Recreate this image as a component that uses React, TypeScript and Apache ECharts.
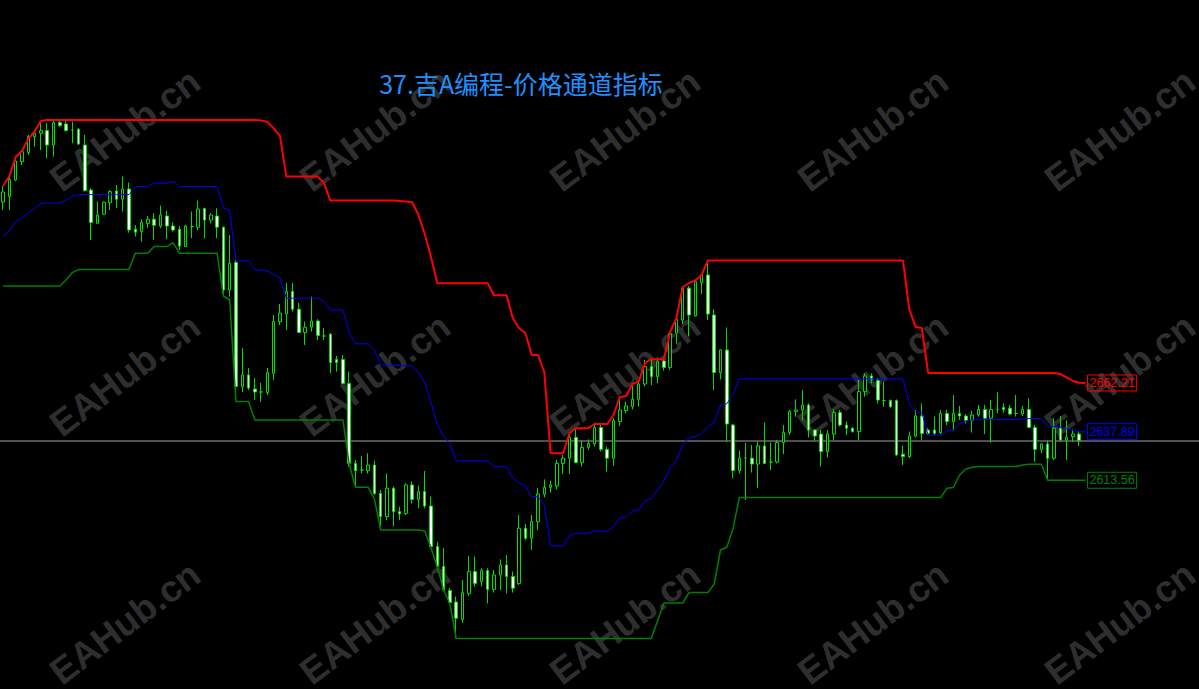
import React, { useEffect, useRef } from "react";
import * as echarts from "echarts";

// [open, close, low, high] per bar
const ohlc: number[][] = [
  [2752.7, 2757.7, 2748.7, 2760.7], [2755.4, 2764.0, 2748.7, 2766.2], [2763.7, 2773.2, 2763.2, 2775.7], [2772.9, 2777.9, 2771.2, 2778.7],
  [2777.4, 2785.4, 2776.2, 2786.2], [2785.4, 2787.1, 2780.4, 2788.7], [2787.1, 2788.4, 2778.7, 2792.9], [2788.4, 2781.2, 2774.6, 2792.1],
  [2781.2, 2792.4, 2775.4, 2793.7], [2792.4, 2790.9, 2790.4, 2793.7], [2791.7, 2788.4, 2787.9, 2793.7], [2788.7, 2788.7, 2782.1, 2792.9],
  [2789.1, 2781.7, 2781.2, 2789.6], [2781.2, 2758.4, 2757.9, 2786.2], [2758.7, 2742.4, 2733.7, 2759.6], [2742.0, 2746.2, 2742.0, 2752.9],
  [2746.6, 2752.6, 2746.2, 2752.9], [2752.4, 2757.9, 2748.7, 2758.7], [2758.2, 2754.1, 2749.6, 2761.2], [2754.1, 2759.2, 2747.9, 2765.4],
  [2759.2, 2738.7, 2737.4, 2762.4], [2739.1, 2737.6, 2735.4, 2741.2], [2737.9, 2742.4, 2732.9, 2744.1], [2742.0, 2744.1, 2739.6, 2745.7],
  [2744.1, 2741.1, 2733.7, 2747.1], [2740.7, 2746.2, 2739.6, 2750.9], [2745.7, 2740.7, 2734.1, 2748.4], [2740.7, 2738.7, 2737.9, 2742.4],
  [2739.1, 2730.7, 2728.7, 2740.7], [2730.4, 2740.7, 2730.1, 2741.2], [2740.4, 2740.4, 2734.6, 2747.9], [2740.1, 2749.2, 2738.7, 2753.4],
  [2749.4, 2743.7, 2734.6, 2749.9], [2743.7, 2746.2, 2742.0, 2747.1], [2745.7, 2740.1, 2734.6, 2749.6], [2740.1, 2708.7, 2705.4, 2740.4],
  [2708.7, 2722.0, 2705.4, 2736.2], [2722.4, 2660.4, 2658.7, 2723.7], [2660.4, 2666.2, 2657.7, 2679.7], [2666.2, 2659.7, 2658.7, 2669.7],
  [2659.2, 2657.7, 2653.7, 2664.7], [2657.7, 2657.7, 2652.7, 2662.2], [2657.4, 2667.4, 2656.2, 2669.7], [2667.0, 2692.9, 2663.7, 2696.2],
  [2692.9, 2697.2, 2691.2, 2701.7], [2696.7, 2707.9, 2688.7, 2712.2], [2707.9, 2699.1, 2697.9, 2712.2], [2699.1, 2687.4, 2687.2, 2702.2],
  [2687.4, 2690.1, 2681.2, 2692.9], [2690.1, 2693.2, 2687.9, 2705.4], [2693.2, 2685.9, 2683.7, 2694.1], [2685.7, 2685.7, 2683.7, 2689.7],
  [2686.6, 2672.4, 2667.0, 2687.2], [2674.0, 2672.4, 2667.9, 2675.7], [2674.0, 2662.0, 2661.7, 2676.2], [2662.0, 2622.0, 2620.4, 2667.9],
  [2622.0, 2618.4, 2610.4, 2623.7], [2618.7, 2618.7, 2617.0, 2625.7], [2618.4, 2621.2, 2617.0, 2627.0], [2621.2, 2607.0, 2606.2, 2623.4],
  [2607.0, 2595.4, 2590.4, 2608.7], [2595.4, 2609.6, 2593.7, 2617.0], [2609.6, 2597.9, 2590.7, 2610.4], [2597.9, 2596.7, 2593.7, 2600.4],
  [2597.0, 2611.2, 2596.2, 2612.0], [2611.2, 2604.0, 2602.0, 2612.9], [2604.0, 2607.9, 2599.6, 2610.9], [2607.9, 2600.7, 2599.6, 2618.2],
  [2600.7, 2580.4, 2579.6, 2605.4], [2580.4, 2570.4, 2570.2, 2582.9], [2570.4, 2558.7, 2557.9, 2579.6], [2558.4, 2552.4, 2552.2, 2559.7],
  [2552.7, 2544.6, 2534.6, 2555.4], [2544.0, 2557.4, 2542.4, 2563.7], [2557.0, 2567.9, 2555.7, 2575.7], [2567.9, 2562.0, 2560.4, 2575.4],
  [2562.9, 2568.4, 2560.4, 2569.6], [2568.4, 2559.0, 2552.0, 2569.6], [2559.0, 2566.2, 2557.4, 2568.7], [2566.2, 2571.2, 2558.7, 2574.0],
  [2571.2, 2565.4, 2557.0, 2576.2], [2565.4, 2559.6, 2557.4, 2567.9], [2562.0, 2589.6, 2561.2, 2596.2], [2589.6, 2584.6, 2583.7, 2591.7],
  [2584.6, 2592.9, 2578.7, 2596.2], [2592.9, 2606.7, 2588.7, 2609.6], [2606.7, 2610.0, 2605.0, 2614.0], [2610.0, 2611.2, 2607.4, 2613.4],
  [2610.7, 2622.0, 2609.0, 2623.7], [2622.0, 2624.6, 2616.7, 2626.2], [2624.6, 2635.0, 2616.7, 2636.2], [2635.0, 2622.4, 2622.0, 2639.0],
  [2622.4, 2630.0, 2620.4, 2633.4], [2630.0, 2632.0, 2628.7, 2634.0], [2631.7, 2640.0, 2630.4, 2641.2], [2640.0, 2629.0, 2627.9, 2641.2],
  [2629.0, 2624.6, 2617.9, 2630.4], [2624.6, 2643.4, 2620.7, 2644.6], [2642.9, 2648.7, 2640.7, 2654.7], [2648.4, 2650.7, 2647.0, 2652.9],
  [2650.4, 2654.0, 2649.0, 2660.7], [2654.0, 2661.7, 2650.4, 2662.9], [2661.7, 2670.4, 2660.4, 2673.7], [2670.4, 2665.4, 2661.2, 2673.7],
  [2665.4, 2673.2, 2662.0, 2675.0], [2673.2, 2670.0, 2668.4, 2674.0], [2670.0, 2687.0, 2668.7, 2687.9], [2687.0, 2694.0, 2682.0, 2695.4],
  [2693.7, 2709.6, 2691.7, 2710.7], [2709.6, 2696.2, 2685.4, 2710.7], [2695.7, 2712.9, 2695.4, 2714.0], [2712.4, 2716.2, 2706.7, 2717.0],
  [2716.2, 2696.7, 2693.7, 2722.9], [2696.2, 2667.4, 2658.7, 2699.0], [2667.4, 2678.7, 2664.0, 2679.0], [2678.7, 2641.7, 2632.9, 2690.0],
  [2641.2, 2618.4, 2614.6, 2641.7], [2618.4, 2624.6, 2617.0, 2628.4], [2624.7, 2624.7, 2603.7, 2632.2], [2624.6, 2621.7, 2617.4, 2631.2],
  [2621.7, 2630.7, 2609.6, 2632.9], [2630.7, 2622.0, 2621.7, 2642.4], [2622.7, 2622.7, 2618.7, 2632.4], [2622.7, 2632.4, 2622.0, 2633.7],
  [2632.4, 2637.4, 2626.7, 2641.2], [2637.4, 2647.9, 2636.2, 2648.7], [2647.9, 2648.7, 2645.4, 2654.0], [2648.7, 2651.2, 2643.4, 2658.7],
  [2651.2, 2638.7, 2635.0, 2652.0], [2638.7, 2635.7, 2633.4, 2639.0], [2636.7, 2627.9, 2620.4, 2638.7], [2627.9, 2636.7, 2625.0, 2638.7],
  [2636.7, 2647.4, 2633.7, 2649.0], [2647.4, 2641.2, 2640.4, 2648.7], [2641.2, 2639.6, 2636.2, 2642.9], [2639.6, 2637.9, 2637.4, 2640.0],
  [2637.9, 2657.9, 2633.7, 2663.7], [2657.9, 2665.7, 2655.4, 2667.0], [2665.7, 2664.0, 2662.0, 2667.0], [2663.4, 2653.7, 2652.0, 2664.6],
  [2653.4, 2653.4, 2650.4, 2662.9], [2653.4, 2650.4, 2649.6, 2654.0], [2653.4, 2626.2, 2625.9, 2654.0], [2626.6, 2625.4, 2621.2, 2630.7],
  [2625.4, 2635.7, 2624.6, 2637.9], [2635.7, 2645.7, 2635.0, 2648.7], [2645.7, 2637.0, 2633.7, 2652.0], [2638.7, 2637.0, 2636.2, 2639.6],
  [2638.7, 2637.0, 2636.2, 2645.4], [2637.4, 2647.0, 2636.7, 2648.7], [2647.0, 2642.9, 2641.2, 2648.7], [2642.9, 2647.0, 2638.7, 2656.2],
  [2647.0, 2645.7, 2643.7, 2650.7], [2645.7, 2643.4, 2642.0, 2646.7], [2643.4, 2646.2, 2637.4, 2648.4], [2646.2, 2649.0, 2645.4, 2651.2],
  [2649.0, 2644.6, 2636.7, 2651.2], [2644.6, 2649.0, 2632.4, 2653.7], [2649.0, 2649.0, 2647.0, 2657.6], [2650.0, 2649.0, 2647.4, 2652.0],
  [2649.6, 2646.7, 2646.2, 2651.2], [2647.0, 2647.0, 2645.4, 2656.2], [2646.7, 2649.0, 2645.7, 2650.7], [2649.0, 2640.0, 2639.6, 2654.6],
  [2640.0, 2629.0, 2622.9, 2641.2], [2629.0, 2631.7, 2627.0, 2632.0], [2631.7, 2624.6, 2613.4, 2633.4], [2624.6, 2639.6, 2623.7, 2644.6],
  [2639.6, 2633.7, 2632.9, 2645.7], [2633.7, 2635.0, 2623.7, 2643.4], [2635.4, 2636.7, 2632.9, 2639.0], [2636.7, 2633.4, 2630.7, 2637.9],
];

// upper channel (highest high), one extra point at the end for the price label
const upper: number[] = [
  2760.7, 2765.7, 2775.2, 2778.2, 2784.2, 2788.0, 2793.2, 2793.7, 2793.7, 2793.7,
  2793.7, 2793.7, 2793.7, 2793.7, 2793.7, 2793.7, 2793.7, 2793.7, 2793.7, 2793.7,
  2793.7, 2793.7, 2793.7, 2793.7, 2793.7, 2793.7, 2793.7, 2793.7, 2793.7, 2793.7,
  2793.7, 2793.7, 2793.7, 2793.7, 2793.7, 2793.7, 2793.7, 2793.7, 2793.7, 2793.7,
  2793.7, 2793.5, 2792.7, 2789.5, 2785.7, 2765.4, 2765.4, 2765.4, 2765.4, 2765.4,
  2765.4, 2762.1, 2753.4, 2753.4, 2753.4, 2753.4, 2753.4, 2753.4, 2753.4, 2753.4,
  2753.4, 2753.4, 2753.4, 2753.2, 2753.0, 2752.6, 2746.2, 2736.7, 2725.2, 2712.1,
  2712.1, 2712.1, 2712.1, 2712.1, 2712.1, 2712.1, 2712.1, 2712.1, 2706.1, 2706.1,
  2706.1, 2694.6, 2689.6, 2687.2, 2676.2, 2676.2, 2667.7, 2627.1, 2627.1, 2627.1,
  2637.1, 2639.6, 2639.6, 2639.6, 2641.7, 2641.7, 2641.7, 2646.2, 2655.2, 2655.7,
  2661.7, 2662.9, 2672.2, 2674.1, 2674.1, 2674.1, 2687.7, 2694.7, 2710.2, 2712.2,
  2713.5, 2716.2, 2723.5, 2723.5, 2723.5, 2723.5, 2723.5, 2723.5, 2723.5, 2723.5,
  2723.5, 2723.5, 2723.5, 2723.5, 2723.5, 2723.5, 2723.5, 2723.5, 2723.5, 2723.5,
  2723.5, 2723.5, 2723.5, 2723.5, 2723.5, 2723.5, 2723.5, 2723.5, 2723.5, 2723.5,
  2723.5, 2723.5, 2723.5, 2723.5, 2699.2, 2690.2, 2689.7, 2667.2, 2667.2, 2667.2,
  2667.2, 2667.2, 2667.2, 2667.2, 2667.2, 2667.2, 2667.2, 2667.2, 2667.2, 2667.2,
  2667.2, 2667.2, 2667.2, 2667.2, 2667.2, 2667.2, 2667.2, 2667.2, 2666.7, 2665.0,
  2663.2, 2662.3, 2662.21,
];

// middle line
const middle: number[] = [
  2735.7, 2738.2, 2743.0, 2744.5, 2747.5, 2749.4, 2752.0, 2752.2, 2752.2, 2752.2,
  2753.7, 2755.6, 2756.4, 2756.4, 2756.4, 2756.4, 2756.4, 2756.4, 2756.4, 2756.4,
  2756.4, 2760.4, 2760.4, 2760.4, 2762.1, 2762.1, 2762.1, 2763.1, 2760.4, 2760.4,
  2760.4, 2760.4, 2760.4, 2760.4, 2760.4, 2749.7, 2748.7, 2723.3, 2723.3, 2723.3,
  2718.7, 2718.6, 2718.2, 2716.6, 2714.7, 2704.6, 2704.6, 2704.6, 2704.6, 2704.6,
  2704.6, 2702.9, 2698.6, 2698.6, 2698.6, 2687.6, 2681.8, 2681.8, 2681.8, 2678.8,
  2671.1, 2671.1, 2671.1, 2671.0, 2670.9, 2670.7, 2667.5, 2662.5, 2652.5, 2641.2,
  2635.4, 2631.9, 2623.3, 2623.3, 2623.3, 2623.3, 2623.3, 2623.3, 2620.3, 2620.3,
  2620.3, 2614.6, 2612.1, 2610.9, 2605.4, 2605.4, 2601.1, 2580.8, 2580.8, 2580.8,
  2585.8, 2587.1, 2587.1, 2587.1, 2588.1, 2588.1, 2588.1, 2590.4, 2594.9, 2595.1,
  2598.1, 2598.7, 2603.4, 2604.3, 2608.7, 2613.2, 2620.0, 2623.5, 2631.2, 2634.8,
  2635.5, 2636.8, 2640.5, 2642.6, 2651.1, 2651.8, 2656.6, 2664.3, 2664.3, 2664.3,
  2664.3, 2664.3, 2664.3, 2664.3, 2664.3, 2664.3, 2664.3, 2664.3, 2664.3, 2664.3,
  2664.3, 2664.3, 2664.3, 2664.3, 2664.3, 2664.3, 2664.3, 2664.3, 2664.3, 2664.3,
  2664.3, 2664.3, 2664.3, 2664.3, 2652.1, 2647.6, 2647.4, 2636.1, 2636.1, 2636.1,
  2638.4, 2638.6, 2641.7, 2643.2, 2643.7, 2643.9, 2643.9, 2643.9, 2643.9, 2643.9,
  2643.9, 2643.9, 2644.2, 2644.4, 2644.4, 2644.4, 2640.4, 2640.4, 2640.1, 2639.3,
  2638.4, 2637.9, 2637.89,
];

// lower channel (lowest low)
const lower: number[] = [
  2710.7, 2710.7, 2710.7, 2710.7, 2710.7, 2710.7, 2710.7, 2710.7, 2710.7, 2710.7,
  2713.7, 2717.4, 2719.0, 2719.0, 2719.0, 2719.0, 2719.0, 2719.0, 2719.0, 2719.0,
  2719.0, 2727.1, 2727.1, 2727.1, 2730.4, 2730.4, 2730.4, 2732.4, 2727.1, 2727.1,
  2727.1, 2727.1, 2727.1, 2727.1, 2727.1, 2705.7, 2703.7, 2652.9, 2652.9, 2652.9,
  2643.7, 2643.7, 2643.7, 2643.7, 2643.7, 2643.7, 2643.7, 2643.7, 2643.7, 2643.7,
  2643.7, 2643.7, 2643.7, 2643.7, 2643.7, 2621.7, 2610.1, 2610.1, 2610.1, 2604.2,
  2588.7, 2588.7, 2588.7, 2588.7, 2588.7, 2588.7, 2588.7, 2588.2, 2579.7, 2570.2,
  2558.7, 2551.7, 2534.5, 2534.5, 2534.5, 2534.5, 2534.5, 2534.5, 2534.5, 2534.5,
  2534.5, 2534.5, 2534.5, 2534.5, 2534.5, 2534.5, 2534.5, 2534.5, 2534.5, 2534.5,
  2534.5, 2534.5, 2534.5, 2534.5, 2534.5, 2534.5, 2534.5, 2534.5, 2534.5, 2534.5,
  2534.5, 2534.5, 2534.5, 2534.5, 2543.2, 2552.2, 2552.2, 2552.2, 2552.2, 2557.4,
  2557.4, 2557.4, 2557.4, 2561.7, 2578.7, 2580.1, 2589.6, 2605.0, 2605.0, 2605.0,
  2605.0, 2605.0, 2605.0, 2605.0, 2605.0, 2605.0, 2605.0, 2605.0, 2605.0, 2605.0,
  2605.0, 2605.0, 2605.0, 2605.0, 2605.0, 2605.0, 2605.0, 2605.0, 2605.0, 2605.0,
  2605.0, 2605.0, 2605.0, 2605.0, 2605.0, 2605.0, 2605.0, 2605.0, 2605.0, 2605.0,
  2609.6, 2609.9, 2616.2, 2619.2, 2620.1, 2620.5, 2620.5, 2620.5, 2620.5, 2620.5,
  2620.5, 2620.5, 2621.2, 2621.6, 2621.6, 2621.6, 2613.56, 2613.56, 2613.56, 2613.56,
  2613.56, 2613.56, 2613.56,
];

const bidPrice = 2633.2;
const yMin = 2509.2;
const yMax = 2853.7;
const titleText = "37.吉A编程-价格通道指标";
const watermarkText = "EAHub.cn";
const barLabels = upper.map((_, i) => String(i));

const CANDLE_GREEN = "#00e000";

export default function App() {
  const ref = useRef<HTMLDivElement>(null);

  useEffect(() => {
    document.body.style.margin = "0";
    document.body.style.background = "#000";
    const chart = echarts.init(ref.current!, null, { renderer: "svg" });

    const wmX = [125, 375, 625, 873, 1120];
    const wmY = [130, 375, 623];
    const elements: any[] = [];
    for (const y of wmY) {
      for (const x of wmX) {
        elements.push({
          type: "text",
          x,
          y,
          rotation: (37 * Math.PI) / 180,
          silent: true,
          z: 0,
          style: {
            text: watermarkText,
            fill: "#2e2e2e",
            font: "bold 37px 'Liberation Sans', Arial, sans-serif",
            align: "center",
            verticalAlign: "middle",
          },
        });
      }
    }
    elements.push({
      type: "text",
      x: 521,
      y: 83,
      silent: true,
      z: 100,
      style: {
        text: titleText,
        fill: "#1e90ff",
        font: "25px 'Noto Sans CJK SC', sans-serif",
        align: "center",
        verticalAlign: "middle",
      },
    });

    const endLabel = (c: string) => ({
      show: true,
      formatter: (p: any) => Number(p.value).toFixed(2),
      color: c,
      fontSize: 12.5,
      fontFamily: "'Liberation Sans', Arial, sans-serif",
      borderColor: c,
      borderWidth: 1,
      padding: [2, 2, 1, 2],
      distance: 2,
    });

    const channel = (name: string, data: number[], color: string, width: number) => ({
      name,
      type: "line",
      data,
      showSymbol: false,
      symbol: "none",
      silent: true,
      lineStyle: { color, width },
      z: 4,
      endLabel: endLabel(color),
    });

    chart.setOption({
      animation: false,
      backgroundColor: "#000000",
      graphic: { elements },
      grid: [
        { left: -4.76, right: 110.4, top: 0, bottom: 0 },
        { left: 0, right: 0, top: 0, bottom: 0 },
      ],
      xAxis: [
        { type: "category", data: barLabels, boundaryGap: true, show: false, gridIndex: 0 },
        { type: "value", min: 0, max: 1, show: false, gridIndex: 1 },
      ],
      yAxis: [
        { type: "value", min: yMin, max: yMax, show: false, gridIndex: 0, splitLine: { show: false } },
        { type: "value", min: yMin, max: yMax, show: false, gridIndex: 1, splitLine: { show: false } },
      ],
      series: [
        {
          type: "line",
          xAxisIndex: 1,
          yAxisIndex: 1,
          data: [
            [0, bidPrice],
            [1, bidPrice],
          ],
          showSymbol: false,
          symbol: "none",
          silent: true,
          lineStyle: { color: "#a0a0a0", width: 1 },
          z: 1,
        },
        {
          type: "candlestick",
          data: ohlc,
          barWidth: 3,
          silent: true,
          z: 3,
          itemStyle: {
            color: "#000000",
            color0: "#ffffff",
            borderColor: CANDLE_GREEN,
            borderColor0: CANDLE_GREEN,
            borderColorDoji: CANDLE_GREEN,
            borderWidth: 1,
          },
        },
        channel("upper", upper, "#ff0000", 2),
        channel("middle", middle, "#0000ff", 1),
        channel("lower", lower, "#008000", 1.5),
      ],
    });

    return () => chart.dispose();
  }, []);

  return (
    <div
      ref={ref}
      style={{ position: "absolute", left: 0, top: 0, width: 1199, height: 689, background: "#000" }}
    />
  );
}
